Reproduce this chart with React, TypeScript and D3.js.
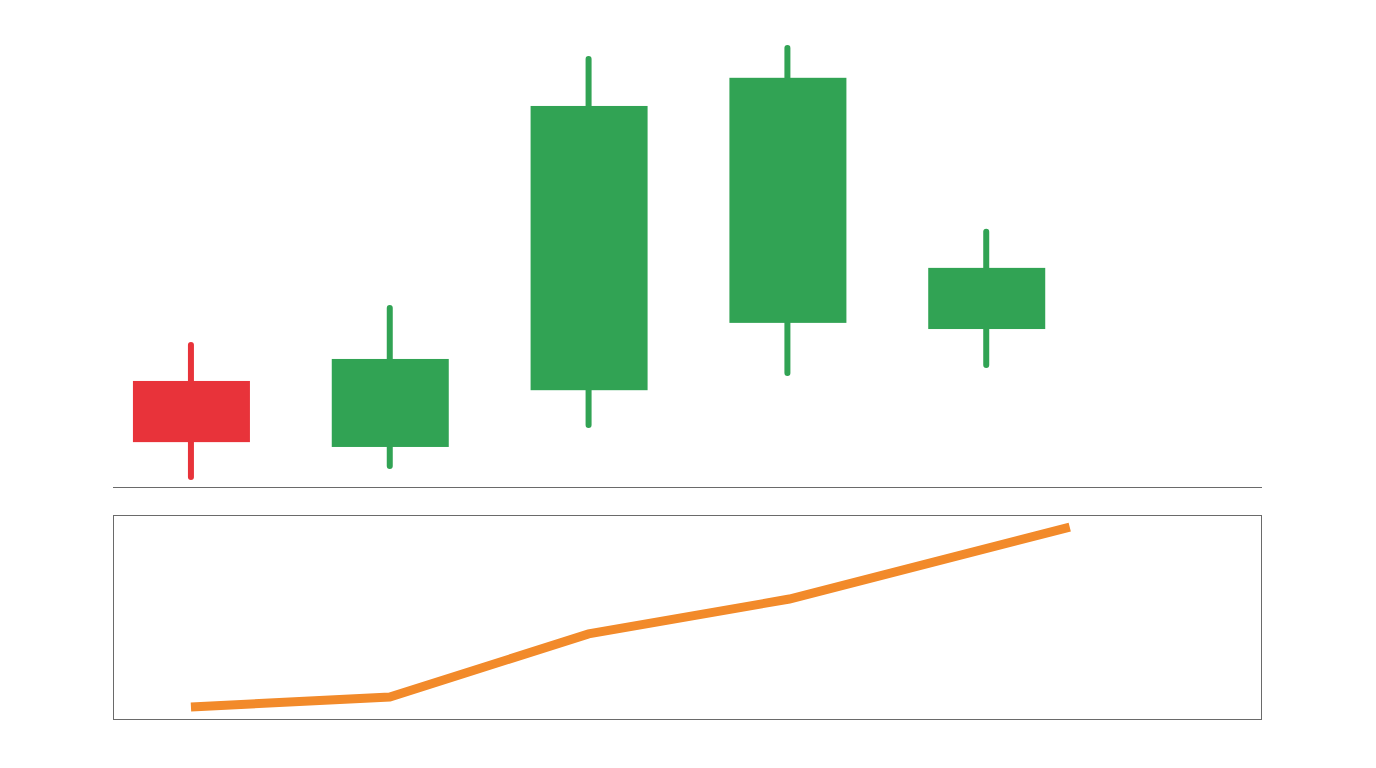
import React from "react";
import * as d3 from "d3";

const candleIndex = [0, 1, 2, 3, 4];
const openValues = [24.1, 9.1, 22.0, 37.3, 35.9];
const closeValues = [10.2, 29.1, 86.6, 93.0, 49.8];
const highValues = [32.3, 40.7, 97.3, 99.8, 58.0];
const lowValues = [2.3, 4.8, 14.1, 25.9, 27.7];

const lineX = [0, 1, 2, 3.01, 4.42];
const lineValues = [5.9, 10.8, 41.7, 58.8, 94.1];

const W = 1376;
const H = 768;
const left = 113;
const right = 1262;

export default function App() {
  const x = d3.scaleLinear().domain([-0.392, 5.387]).range([left, right]);
  const y = d3.scaleLinear().domain([0, 100]).range([487, 47]);
  const y2 = d3.scaleLinear().domain([0, 100]).range([719, 515]);
  const bodyW = 117;

  const lineGen = d3
    .line<number>()
    .x((_, i) => x(lineX[i]))
    .y((d) => y2(d));

  return (
    <svg
      width={W}
      height={H}
      style={{ position: "absolute", left: 0, top: 0, background: "#fff" }}
    >
      <rect x={0} y={0} width={W} height={H} fill="#fff" />
      {candleIndex.map((i) => {
        const up = closeValues[i] >= openValues[i];
        const color = up ? "#31a354" : "#e8333a";
        const top = y(Math.max(openValues[i], closeValues[i]));
        const bot = y(Math.min(openValues[i], closeValues[i]));
        const cx = x(i);
        return (
          <g key={i}>
            <line
              x1={cx}
              x2={cx}
              y1={y(highValues[i])}
              y2={y(lowValues[i])}
              stroke={color}
              strokeWidth={6}
              strokeLinecap="round"
            />
            <rect x={cx - bodyW / 2 + 0.5} y={top} width={bodyW} height={bot - top} fill={color} />
          </g>
        );
      })}
      <line x1={left} x2={right} y1={y(0) + 0.5} y2={y(0) + 0.5} stroke="#6a6a6a" strokeWidth={1} />
      <rect
        x={left + 0.5}
        y={515.5}
        width={right - left - 1}
        height={204}
        fill="none"
        stroke="#6a6a6a"
        strokeWidth={1}
      />
      <path d={lineGen(lineValues) || ""} fill="none" stroke="#f28a2a" strokeWidth={9} />
    </svg>
  );
}
